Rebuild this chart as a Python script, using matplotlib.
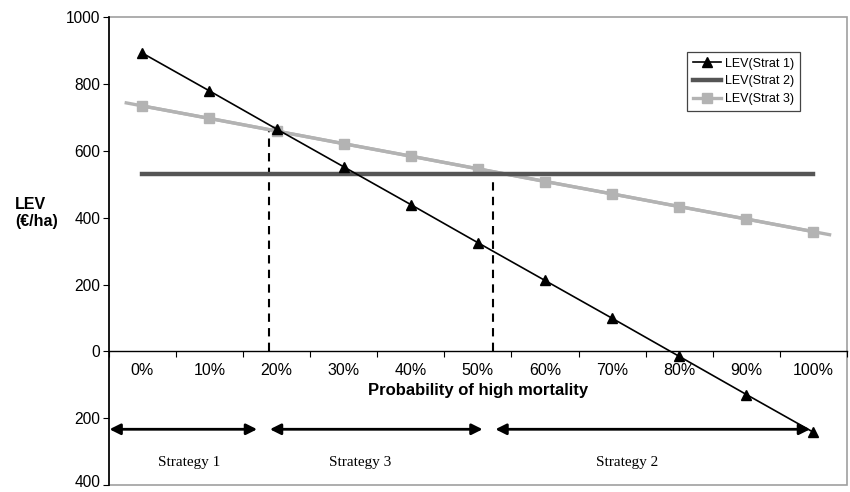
import numpy as np
import matplotlib
matplotlib.use("Agg")
import matplotlib.pyplot as plt
import matplotlib.transforms as mtransforms
from matplotlib.patches import Rectangle

plt.rcParams["font.family"] = ["Liberation Sans", "DejaVu Sans"]

categories = ["0%", "10%", "20%", "30%", "40%", "50%", "60%", "70%", "80%", "90%", "100%"]
lev_strat1 = [892, 779, 665, 552, 439, 325, 212, 99, -15, -129, -242]
lev_strat2 = [530, 530, 530, 530, 530, 530, 530, 530, 530, 530, 530]
lev_strat3 = [734, 697, 659, 621, 584, 546, 508, 471, 433, 396, 358]

# switch points (in category units) and the LEV where the dashed line stops
switch_x = [1.89, 5.23]
switch_top = [663, 528]

# strategy ranges shown by the arrows below the axis
strategy_names = ["Strategy 1", "Strategy 3", "Strategy 2"]
strategy_ranges = [(-0.49, 1.71), (1.90, 5.07), (5.26, 9.95)]
strategy_label_x = [0.69, 3.25, 7.22]

x = np.arange(len(categories))

fig = plt.figure(figsize=(8.5, 4.92), dpi=100)
ax = fig.add_axes([0.128, 0.014, 0.8685, 0.9514])

# trendline of strategy 3 runs a bit past the first and last points
coef = np.polyfit(x, lev_strat3, 1)
xt = np.array([-0.24, 10.24])
ax.plot(xt, np.polyval(coef, xt), color="#b3b3b3", lw=2.4, zorder=2)
ax.plot(x, lev_strat3, color="#b3b3b3", lw=2.4, marker="s", ms=7.5,
        mec="#b3b3b3", mfc="#b3b3b3", zorder=3, label="LEV(Strat 3)")
ax.plot(x, lev_strat2, color="#555555", lw=3.2, zorder=3, label="LEV(Strat 2)")
ax.plot(x, lev_strat1, color="black", lw=1.2, marker="^", ms=6.5, zorder=4,
        label="LEV(Strat 1)")

for sx, top in zip(switch_x, switch_top):
    ax.plot([sx, sx], [0, top], color="black", lw=1.5, ls=(0, (4, 3)), zorder=1)

for (a, b), name, lx in zip(strategy_ranges, strategy_names, strategy_label_x):
    ax.annotate("", xy=(b, -233), xytext=(a, -233),
                arrowprops=dict(arrowstyle="<|-|>", color="black", lw=2,
                                mutation_scale=16, shrinkA=0, shrinkB=0),
                annotation_clip=False)
    ax.text(lx, -331, name, family="Liberation Serif", fontsize=11,
            ha="center", va="center")

ax.set_xlim(-0.5, 10.5)
ax.set_ylim(-400, 1000)

# category axis sits at y = 0, ticks between categories
ax.spines["bottom"].set_position(("data", 0))
ax.spines["bottom"].set_linewidth(1.0)
ax.spines["left"].set_linewidth(1.2)
ax.spines["top"].set_visible(False)
ax.spines["right"].set_visible(False)
ax.set_xticks(np.arange(-0.5, 11, 1))
ax.set_xticklabels([])
ax.tick_params(axis="x", direction="out", length=4, width=0.8)
for xi, lab in zip(x, categories):
    ax.text(xi, -57, lab, fontsize=11.5, ha="center", va="center")
ax.text(5, -116, "Probability of high mortality", fontsize=12,
        fontweight="bold", ha="center", va="center")

yt = np.arange(-400, 1001, 200)
ax.set_yticks(yt)
ax.set_yticklabels([str(abs(v)) for v in yt], fontsize=11.2)
ax.tick_params(axis="y", direction="out", length=4, width=0.8, pad=2)
# keep the lowest label inside the picture
low = ax.get_yticklabels()[0]
low.set_transform(low.get_transform() +
                  mtransforms.ScaledTranslation(0, 4 / 100, fig.dpi_scale_trans))

ax.add_patch(Rectangle((0, 0), 1, 1, transform=ax.transAxes, fill=False,
                       edgecolor="#a0a0a0", lw=1.2, clip_on=False, zorder=0))

fig.text(0.018, 0.567, "LEV\n(\u20ac/ha)", fontsize=11.5, fontweight="bold",
         ha="left", va="center", linespacing=1.1)

handles, labels = ax.get_legend_handles_labels()
order = [2, 1, 0]
leg = ax.legend([handles[i] for i in order], [labels[i] for i in order],
                loc="upper left", bbox_to_anchor=(687 / 850, 1 - 52 / 492),
                bbox_transform=fig.transFigure, fontsize=9, frameon=True,
                fancybox=False, edgecolor="#444444", framealpha=1,
                handlelength=2.3, handletextpad=0.3, labelspacing=0.45,
                borderpad=0.45, borderaxespad=0)
leg.get_frame().set_linewidth(0.9)

fig.savefig("out.png", dpi=100)
